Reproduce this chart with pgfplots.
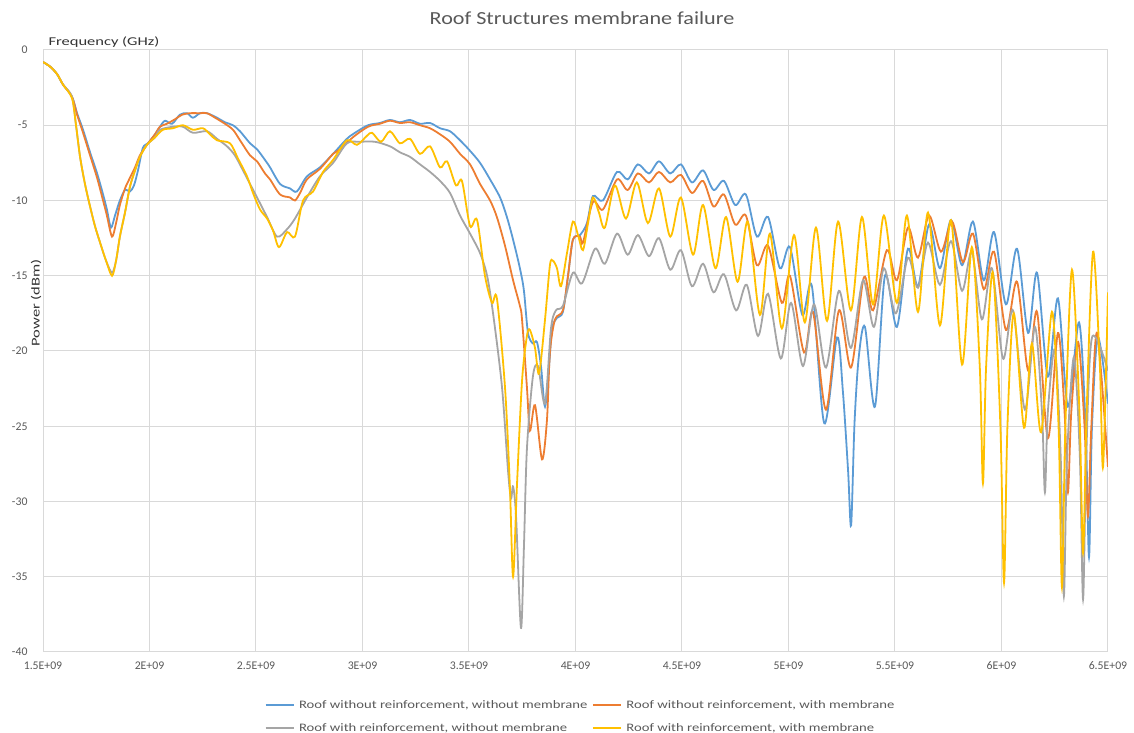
\documentclass[border=0pt]{standalone}
\usepackage{pgfplots}
\pgfplotsset{compat=1.18}
\usepackage{fontspec}
\setmainfont{Carlito}
\newfontfamily\widefont[FakeStretch=1.38]{Carlito}
\newfontfamily\legfont[FakeStretch=1.28]{Carlito}
\newfontfamily\titlefont[FakeStretch=1.2]{Carlito}
\definecolor{cblue}{HTML}{5B9BD5}
\definecolor{corange}{HTML}{ED7D31}
\definecolor{cgray}{HTML}{A5A5A5}
\definecolor{cyellow}{HTML}{FFC000}
\definecolor{gridc}{HTML}{D9D9D9}
\definecolor{txt}{HTML}{595959}
\begin{document}
\begin{tikzpicture}
\useasboundingbox (0,0) rectangle (1134bp,733bp);
\begin{axis}[
  at={(43bp,81bp)}, anchor=south west,
  width=1065bp, height=602bp, scale only axis,
  xmin=1.5, xmax=6.5, ymin=-40, ymax=0,
  xtick={1.5,2,2.5,3,3.5,4,4.5,5,5.5,6,6.5},
  xticklabels={1.5E+09,2E+09,2.5E+09,3E+09,3.5E+09,4E+09,4.5E+09,5E+09,5.5E+09,6E+09,6.5E+09},
  ytick={-40,-35,-30,-25,-20,-15,-10,-5,0},
  yticklabels={-40,-35,-30,-25,-20,-15,-10,-5,0},
  grid=major, major grid style={gridc, line width=1bp},
  axis line style={gridc, line width=1bp},
  major tick length=0pt,
  tick label style={font=\fontsize{11.8}{13}\selectfont, text=txt},
  xticklabel style={yshift=-6bp},
  yticklabel style={anchor=east, xshift=-12bp},
  legend columns=2,
  legend cell align=left,
  legend style={at={(0.205,-0.074)}, anchor=north west, draw=none, fill=none,
    font=\legfont\fontsize{11.5}{13}\selectfont, text=txt, row sep=11bp, column sep=3bp,
    nodes={inner sep=1.5bp}},
  legend image code/.code={\draw[#1, line width=2bp] (0bp,0bp) -- (28bp,0bp);},
  every axis plot/.append style={line width=1.8bp, smooth, tension=0.5},
]
\addplot[cblue] coordinates {
(1.500,-0.8)(1.533,-1.1)(1.566,-1.6)(1.594,-2.3)(1.636,-3.1)(1.660,-4.2)(1.688,-5.3)(1.721,-6.8)
(1.754,-8.2)(1.782,-9.6)(1.800,-10.6)(1.819,-11.8)(1.838,-11.0)(1.861,-10.0)(1.885,-9.3)(1.908,-9.4)
(1.927,-9.0)(1.946,-8.0)(1.969,-6.5)(1.993,-6.2)(2.026,-5.6)(2.049,-5.1)(2.073,-4.7)(2.106,-4.9)
(2.143,-4.3)(2.176,-4.2)(2.204,-4.5)(2.237,-4.2)(2.270,-4.2)(2.317,-4.5)(2.354,-4.8)(2.392,-5.0)
(2.425,-5.4)(2.472,-6.2)(2.505,-6.6)(2.542,-7.3)(2.566,-7.8)(2.613,-8.9)(2.660,-9.2)(2.692,-9.4)
(2.739,-8.4)(2.800,-7.8)(2.862,-6.9)(2.927,-5.9)(2.965,-5.5)(3.026,-5.0)(3.082,-4.85)(3.129,-4.65)
(3.176,-4.8)(3.223,-4.65)(3.270,-4.9)(3.317,-4.85)(3.364,-5.2)(3.411,-5.4)(3.458,-6.0)(3.505,-6.7)
(3.552,-7.5)(3.599,-8.6)(3.646,-9.8)(3.678,-11.1)(3.707,-12.6)(3.739,-14.5)(3.758,-16.0)(3.777,-18.8)
(3.800,-19.5)(3.819,-19.4)(3.838,-21.0)(3.857,-23.7)(3.876,-21.0)(3.890,-18.5)(3.913,-17.8)(3.941,-17.4)
(3.965,-15.0)(3.988,-12.6)(4.021,-12.3)(4.054,-11.5)(4.082,-9.7)(4.129,-10.0)(4.195,-8.1)(4.245,-8.6)
(4.293,-7.6)(4.345,-8.2)(4.392,-7.4)(4.445,-8.2)(4.495,-7.6)(4.547,-8.8)(4.599,-8.0)(4.648,-9.3)
(4.697,-8.7)(4.750,-10.3)(4.800,-9.6)(4.852,-12.4)(4.904,-11.1)(4.960,-14.5)(5.007,-13.1)(5.065,-17.6)
(5.110,-15.7)(5.168,-24.8)(5.228,-19.1)(5.255,-22.6)(5.280,-28.0)(5.294,-31.6)(5.310,-24.8)(5.330,-20.4)
(5.359,-18.4)(5.406,-23.7)(5.453,-15.0)(5.509,-18.4)(5.561,-13.2)(5.608,-15.7)(5.660,-11.6)(5.711,-14.5)
(5.763,-11.3)(5.815,-14.3)(5.866,-11.4)(5.917,-15.3)(5.965,-12.1)(6.021,-16.9)(6.073,-13.2)(6.125,-18.8)
(6.167,-14.8)(6.218,-21.7)(6.265,-16.5)(6.312,-23.7)(6.364,-18.1)(6.395,-25.0)(6.411,-33.7)(6.425,-25.0)
(6.453,-19.1)(6.500,-23.5)
};
\addlegendentry{Roof without reinforcement, without membrane}
\addplot[corange] coordinates {
(1.500,-0.8)(1.533,-1.1)(1.566,-1.6)(1.594,-2.3)(1.636,-3.1)(1.660,-4.3)(1.688,-5.5)(1.721,-7.0)
(1.754,-8.5)(1.782,-10.0)(1.800,-11.0)(1.824,-12.4)(1.843,-11.5)(1.861,-10.3)(1.885,-9.2)(1.908,-8.5)
(1.932,-7.8)(1.955,-7.0)(1.988,-6.3)(2.026,-5.6)(2.049,-5.1)(2.082,-4.9)(2.120,-4.6)(2.153,-4.3)
(2.190,-4.2)(2.237,-4.2)(2.270,-4.2)(2.308,-4.5)(2.354,-4.9)(2.392,-5.3)(2.425,-6.0)(2.472,-7.0)
(2.505,-7.4)(2.542,-8.2)(2.566,-8.6)(2.613,-9.6)(2.660,-9.8)(2.683,-10.0)(2.707,-9.5)(2.739,-8.6)
(2.800,-7.9)(2.862,-6.9)(2.894,-6.6)(2.955,-5.8)(3.026,-5.1)(3.082,-4.9)(3.129,-4.7)(3.176,-4.85)
(3.223,-4.8)(3.270,-5.0)(3.317,-5.2)(3.364,-5.6)(3.411,-6.1)(3.458,-6.9)(3.505,-7.6)(3.552,-8.9)
(3.599,-10.0)(3.631,-11.1)(3.669,-13.0)(3.707,-15.3)(3.739,-17.0)(3.749,-17.9)(3.772,-22.4)(3.786,-25.3)
(3.810,-23.6)(3.843,-27.2)(3.866,-24.6)(3.880,-20.1)(3.904,-17.9)(3.941,-17.3)(3.965,-15.0)(3.988,-12.6)
(4.021,-12.4)(4.035,-12.8)(4.082,-10.1)(4.129,-10.6)(4.195,-8.6)(4.245,-9.3)(4.293,-8.2)(4.345,-8.8)
(4.392,-8.1)(4.445,-8.8)(4.495,-8.3)(4.547,-9.5)(4.599,-8.7)(4.648,-10.4)(4.697,-9.6)(4.750,-11.6)
(4.800,-11.0)(4.852,-14.3)(4.904,-13.0)(4.969,-16.8)(5.007,-15.0)(5.073,-20.1)(5.115,-17.4)(5.176,-23.9)
(5.237,-17.3)(5.294,-21.1)(5.354,-15.1)(5.397,-17.3)(5.462,-13.3)(5.509,-15.3)(5.561,-11.8)(5.608,-13.8)
(5.660,-11.0)(5.716,-13.4)(5.768,-11.4)(5.819,-14.1)(5.866,-12.2)(5.917,-15.9)(5.965,-13.4)(6.021,-18.6)
(6.073,-15.4)(6.125,-21.3)(6.167,-17.4)(6.218,-25.8)(6.265,-18.8)(6.296,-24.0)(6.312,-29.4)(6.328,-24.0)
(6.360,-19.4)(6.390,-25.0)(6.406,-31.0)(6.422,-25.0)(6.449,-18.8)(6.500,-27.7)
};
\addlegendentry{Roof without reinforcement, with membrane}
\addplot[cgray] coordinates {
(1.500,-0.8)(1.533,-1.1)(1.566,-1.6)(1.594,-2.3)(1.636,-3.1)(1.655,-5.0)(1.674,-7.1)(1.697,-8.9)
(1.721,-10.4)(1.744,-11.7)(1.768,-12.8)(1.796,-14.0)(1.824,-14.8)(1.843,-14.0)(1.861,-12.4)(1.885,-10.8)
(1.908,-9.1)(1.932,-8.0)(1.955,-7.1)(1.988,-6.3)(2.026,-5.8)(2.049,-5.3)(2.110,-5.1)(2.157,-5.1)
(2.204,-5.5)(2.270,-5.4)(2.317,-5.9)(2.364,-6.4)(2.401,-7.0)(2.439,-8.0)(2.472,-8.9)(2.505,-9.8)
(2.552,-11.1)(2.599,-12.4)(2.646,-11.9)(2.683,-11.2)(2.739,-9.8)(2.800,-8.4)(2.862,-7.5)(2.927,-6.2)
(2.988,-6.1)(3.059,-6.1)(3.129,-6.4)(3.176,-6.8)(3.223,-7.1)(3.270,-7.6)(3.317,-8.1)(3.364,-8.7)
(3.411,-9.5)(3.458,-11.0)(3.505,-12.2)(3.552,-13.5)(3.585,-15.0)(3.613,-17.5)(3.655,-22.4)(3.683,-27.9)
(3.697,-29.8)(3.707,-29.0)(3.721,-31.0)(3.744,-38.4)(3.758,-33.0)(3.772,-26.5)(3.800,-21.7)(3.824,-21.0)
(3.857,-23.5)(3.885,-18.5)(3.908,-17.3)(3.941,-17.0)(3.988,-14.8)(4.031,-15.5)(4.092,-13.2)(4.138,-14.2)
(4.195,-12.2)(4.245,-13.6)(4.293,-12.3)(4.345,-13.7)(4.392,-12.5)(4.445,-14.6)(4.495,-13.3)(4.547,-15.7)
(4.599,-14.2)(4.648,-16.1)(4.697,-14.9)(4.754,-17.3)(4.804,-15.6)(4.857,-19.0)(4.904,-16.2)(4.964,-20.5)
(5.012,-16.8)(5.068,-21.0)(5.120,-16.9)(5.176,-21.1)(5.237,-16.0)(5.293,-19.8)(5.350,-15.3)(5.401,-18.4)
(5.448,-14.5)(5.504,-17.5)(5.561,-13.8)(5.608,-15.8)(5.655,-12.8)(5.711,-15.6)(5.763,-12.7)(5.815,-16.0)
(5.861,-13.4)(5.908,-17.9)(5.955,-14.5)(6.007,-20.5)(6.054,-17.3)(6.110,-23.9)(6.157,-18.4)(6.190,-24.0)
(6.204,-29.4)(6.218,-24.0)(6.251,-19.9)(6.278,-27.0)(6.293,-36.3)(6.308,-27.0)(6.340,-20.4)(6.368,-27.0)
(6.383,-36.5)(6.398,-27.0)(6.425,-19.1)(6.500,-21.3)
};
\addlegendentry{Roof with reinforcement, without membrane}
\addplot[cyellow] coordinates {
(1.500,-0.8)(1.533,-1.1)(1.566,-1.6)(1.594,-2.3)(1.636,-3.2)(1.655,-5.0)(1.674,-7.1)(1.697,-8.9)
(1.721,-10.4)(1.744,-11.7)(1.768,-12.8)(1.796,-14.0)(1.824,-15.0)(1.843,-14.0)(1.861,-12.4)(1.885,-10.8)
(1.908,-9.1)(1.932,-8.0)(1.955,-7.1)(1.988,-6.3)(2.026,-5.8)(2.063,-5.3)(2.110,-5.2)(2.157,-5.0)
(2.204,-5.3)(2.251,-5.2)(2.284,-5.6)(2.317,-6.0)(2.378,-6.2)(2.415,-7.2)(2.458,-8.4)(2.486,-9.5)
(2.519,-10.6)(2.552,-11.2)(2.580,-12.0)(2.608,-13.1)(2.646,-12.1)(2.683,-12.4)(2.721,-10.0)(2.768,-9.4)
(2.815,-8.1)(2.862,-7.3)(2.927,-6.0)(2.974,-6.3)(3.021,-5.7)(3.045,-5.5)(3.087,-6.1)(3.129,-5.4)
(3.176,-6.2)(3.223,-5.9)(3.270,-6.9)(3.317,-6.4)(3.364,-7.8)(3.397,-7.4)(3.439,-9.0)(3.467,-8.7)
(3.505,-11.7)(3.538,-11.3)(3.575,-15.0)(3.608,-16.8)(3.631,-16.5)(3.669,-22.4)(3.692,-29.0)(3.707,-35.0)
(3.725,-29.0)(3.749,-22.0)(3.772,-19.0)(3.786,-18.6)(3.810,-19.8)(3.829,-21.5)(3.857,-17.9)(3.880,-14.3)
(3.894,-14.0)(3.913,-14.5)(3.932,-15.7)(3.960,-13.5)(3.988,-11.4)(4.012,-12.3)(4.035,-13.3)(4.059,-11.5)
(4.082,-9.8)(4.110,-10.8)(4.138,-11.8)(4.185,-9.0)(4.237,-11.2)(4.288,-8.8)(4.340,-11.5)(4.392,-9.2)
(4.445,-12.4)(4.495,-9.8)(4.552,-13.6)(4.599,-10.3)(4.657,-14.5)(4.707,-11.1)(4.761,-15.4)(4.809,-11.4)
(4.866,-17.6)(4.913,-12.2)(4.969,-18.5)(5.026,-12.3)(5.077,-18.1)(5.129,-11.8)(5.181,-18.0)(5.233,-11.4)
(5.293,-17.3)(5.345,-11.1)(5.397,-16.9)(5.448,-11.0)(5.509,-16.8)(5.556,-11.0)(5.608,-17.4)(5.655,-10.8)
(5.711,-18.3)(5.763,-11.3)(5.815,-20.9)(5.861,-13.1)(5.898,-21.0)(5.913,-28.8)(5.928,-21.0)(5.960,-14.8)
(5.995,-25.0)(6.012,-35.4)(6.028,-25.0)(6.058,-17.5)(6.106,-25.1)(6.143,-19.5)(6.186,-25.4)(6.237,-17.4)
(6.268,-25.0)(6.284,-35.7)(6.300,-25.0)(6.331,-14.6)(6.366,-24.0)(6.383,-33.4)(6.400,-24.0)(6.430,-13.4)
(6.462,-21.0)(6.477,-27.7)(6.500,-16.1)
};
\addlegendentry{Roof with reinforcement, with membrane}
\end{axis}
\node[font=\titlefont\fontsize{18.5}{22}\selectfont, text=txt] at (582bp,715bp) {Roof Structures membrane failure};
\node[anchor=west, font=\widefont\fontsize{12}{14}\selectfont, text=black!80] at (45bp,691bp) {Frequency (GHz)};
\node[rotate=90, font=\widefont\fontsize{12}{14}\selectfont, text=black!80] at (36bp,430bp) {Power (dBm)};
\end{tikzpicture}
\end{document}
